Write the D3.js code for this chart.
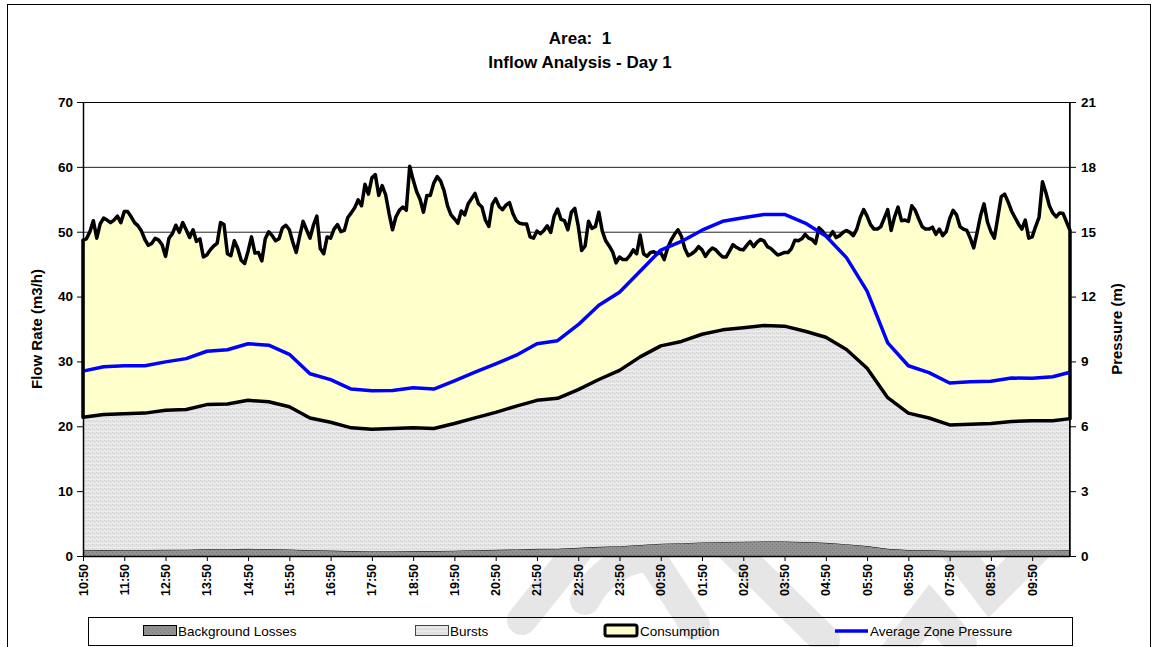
<!DOCTYPE html>
<html><head><meta charset="utf-8">
<script src="https://cdn.jsdelivr.net/npm/d3@7"></script>
<style>
body{margin:0;background:#fff}
svg{display:block}
text{font-family:"Liberation Sans",Arial,Helvetica,sans-serif}
</style>
</head><body>
<svg id="c" width="1158" height="647"></svg>
<script>
// ---------------- DATA ----------------
const titleLines = ["Area:  1", "Inflow Analysis - Day 1"];
const timeLabels = ["10:50","11:50","12:50","13:50","14:50","15:50","16:50","17:50","18:50","19:50","20:50","21:50",
                    "22:50","23:50","00:50","01:50","02:50","03:50","04:50","05:50","06:50","07:50","08:50","09:50"];
const flowTicks = [0,10,20,30,40,50,60,70];
const pressureTicks = [0,3,6,9,12,15,18,21];
const seriesNames = ["Background Losses","Bursts","Consumption","Average Zone Pressure"];

// Total inflow (top of stack), 5-minute readings from 10:50
const inflow = [
48.7,48.9,50.0,51.7,49.0,51.2,52.1,51.8,51.4,51.8,
52.4,51.4,53.1,53.1,52.3,51.4,50.9,50.1,48.8,47.9,
48.2,49.0,48.7,48.0,46.2,49.0,49.7,51.0,49.9,51.4,
50.3,49.1,50.3,48.5,48.9,46.1,46.4,47.2,47.8,48.2,
51.4,51.1,46.6,46.3,48.6,47.4,45.6,45.1,47.0,49.2,
46.7,46.8,45.5,48.9,50.0,49.4,48.6,48.9,50.6,51.0,
50.3,48.4,46.8,49.3,51.6,50.3,49.0,51.0,52.4,47.4,
46.6,49.2,49.0,50.4,51.1,50.0,50.2,52.2,52.9,53.7,
54.9,54.0,57.3,55.8,58.3,58.8,55.6,57.1,55.7,52.8,
50.3,52.3,53.3,53.8,53.3,60.1,58.0,56.2,55.0,53.0,
55.6,55.6,57.5,58.5,57.8,56.3,54.0,52.6,52.0,51.3,
53.2,52.6,54.3,55.1,55.9,54.3,53.8,51.8,50.8,54.2,
55.1,53.9,53.4,54.1,54.5,52.8,51.7,51.3,51.2,51.2,
49.2,49.0,50.1,49.7,50.2,50.9,49.9,52.4,53.5,51.9,
51.7,50.3,53.0,53.6,50.9,47.1,47.8,51.6,50.5,50.8,
53.0,50.1,48.6,47.8,46.9,45.2,46.1,45.7,45.7,46.3,
47.2,46.6,49.5,46.6,46.2,46.8,46.9,46.6,46.8,45.7,
47.5,48.7,49.6,50.3,49.3,47.4,46.3,46.6,47.0,47.7,
47.2,46.2,47.0,47.5,47.2,46.6,46.1,46.1,47.0,48.0,
47.6,47.3,47.2,47.9,48.5,47.7,48.4,48.8,48.6,47.7,
47.4,46.9,46.4,46.6,46.8,46.8,47.4,48.7,48.6,48.9,
49.6,49.0,48.8,48.2,50.6,50.1,49.4,49.2,50.0,49.1,
49.4,49.9,50.2,49.9,49.4,50.4,52.2,53.4,52.4,51.1,
50.4,50.4,50.8,52.1,53.4,50.2,52.3,53.8,51.7,51.8,
51.6,54.0,53.3,52.0,50.8,50.4,50.4,50.7,49.6,50.4,
49.4,50.0,52.0,53.3,52.6,50.8,50.4,50.2,49.0,47.5,
49.9,52.5,54.3,51.5,50.0,49.0,52.2,55.4,55.8,54.6,
53.2,52.2,51.2,50.4,51.8,49.0,49.2,50.8,52.2,57.7,
56.0,54.0,52.9,52.3,52.9,52.8,51.5,50.2];

// Half-hourly readings (10:50, 11:20, ... 10:20, end 10:45)
const bgLosses = [0.89,0.92,0.94,0.93,0.96,0.98,1.04,1.05,1.10,1.08,1.02,0.87,0.83,0.76,0.75,0.75,0.77,0.76,0.82,0.89,
                  0.95,1.01,1.10,1.12,1.26,1.41,1.52,1.70,1.90,1.98,2.09,2.17,2.21,2.24,2.24,2.16,2.03,1.83,1.54,1.11,
                  0.93,0.88,0.81,0.82,0.82,0.84,0.84,0.85,0.88];
const bursts = [20.5,20.9,21.0,21.1,21.5,21.6,22.3,22.4,22.9,22.7,22.0,20.4,19.8,19.0,18.8,18.9,19.0,18.9,19.6,20.4,
                21.2,22.1,22.9,23.2,24.4,25.8,27.1,29.0,30.5,31.1,32.1,32.7,33.0,33.3,33.2,32.5,31.7,30.0,27.4,23.3,
                21.1,20.4,19.4,19.5,19.6,19.9,20.0,20.0,20.3];
const pressure = [8.55,8.75,8.8,8.8,8.98,9.13,9.47,9.54,9.82,9.75,9.33,8.43,8.16,7.72,7.64,7.66,7.78,7.72,8.1,8.5,
                  8.89,9.29,9.82,9.96,10.7,11.6,12.2,13.17,14.15,14.55,15.07,15.48,15.65,15.8,15.8,15.4,14.8,13.8,12.25,9.86,
                  8.8,8.48,8.0,8.06,8.08,8.23,8.22,8.29,8.5];

// ---------------- CHART ----------------
const svg = d3.select("#c");
const P = {l:83, r:1070, t:102, b:556};
const n = inflow.length;
const x = d3.scaleLinear().domain([0, n-1]).range([P.l, P.r]);
const yF = d3.scaleLinear().domain([0,70]).range([P.b, P.t]);
const yP = d3.scaleLinear().domain([0,21]).range([P.b, P.t]);
const halfIdx = d3.range(0, n, 6).concat([n-1]);
const half = halfIdx.map((idx,k)=>({idx, bg:bgLosses[k], top:bgLosses[k]+bursts[k], p:pressure[k]}));

const defs = svg.append("defs");
const pb = defs.append("pattern").attr("id","burstPat").attr("patternUnits","userSpaceOnUse").attr("width",4).attr("height",4);
pb.append("rect").attr("width",4).attr("height",4).attr("fill","#e4e4e4");
pb.append("rect").attr("x",0).attr("y",0).attr("width",1).attr("height",1).attr("fill","#cdcdcd");
pb.append("rect").attr("x",2).attr("y",1).attr("width",1).attr("height",1).attr("fill","#d2d2d2");
pb.append("rect").attr("x",0).attr("y",3).attr("width",4).attr("height",1).attr("fill","#ededed");
const pg = defs.append("pattern").attr("id","bgPat").attr("patternUnits","userSpaceOnUse").attr("width",4).attr("height",4);
pg.append("rect").attr("width",4).attr("height",4).attr("fill","#929292");
pg.append("rect").attr("x",0).attr("y",0).attr("width",1).attr("height",1).attr("fill","#777");
pg.append("rect").attr("x",2).attr("y",2).attr("width",1).attr("height",1).attr("fill","#7c7c7c");

// watermark (faint, behind chart)
const wm = svg.append("g").attr("fill","none").attr("stroke","#e6e6e6").attr("stroke-width",30).attr("stroke-linecap","round");
wm.append("path").attr("d","M582,545 L522,620");
wm.append("path").attr("d","M585,600 Q605,562 650,556 L695,625");
wm.append("path").attr("d","M728,545 L825,640");
wm.append("path").attr("d","M890,660 L930,608 L962,645");
wm.append("path").attr("d","M952,545 L990,595 L1040,545");

// outer frame
svg.append("rect").attr("x",7.5).attr("y",4.5).attr("width",1143).attr("height",700)
  .attr("fill","none").attr("stroke","#000").attr("stroke-width",1);

// titles
svg.append("text").attr("x",580).attr("y",44).attr("text-anchor","middle")
  .attr("font-size",17).attr("font-weight","bold").style("white-space","pre").text(titleLines[0]);
svg.append("text").attr("x",580).attr("y",68).attr("text-anchor","middle")
  .attr("font-size",17).attr("font-weight","bold").text(titleLines[1]);

// plot background
svg.append("rect").attr("x",P.l).attr("y",P.t).attr("width",P.r-P.l).attr("height",P.b-P.t).attr("fill","#fff");

// gridlines
svg.append("g").selectAll("line").data(flowTicks.slice(1)).join("line")
  .attr("x1",P.l).attr("x2",P.r).attr("y1",d=>yF(d)+0.5).attr("y2",d=>yF(d)+0.5)
  .attr("stroke","#222").attr("stroke-width",1);

// background losses
const areaBg = d3.area().x(d=>x(d.idx)).y0(yF(0)).y1(d=>yF(d.bg));
svg.append("path").datum(half).attr("d",areaBg).attr("fill","url(#bgPat)");
svg.append("path").datum(half).attr("d",d3.line().x(d=>x(d.idx)).y(d=>yF(d.bg)))
  .attr("fill","none").attr("stroke","#000").attr("stroke-width",1);

// bursts
const areaBu = d3.area().x(d=>x(d.idx)).y0(d=>yF(d.bg)).y1(d=>yF(d.top));
svg.append("path").datum(half).attr("d",areaBu).attr("fill","url(#burstPat)");

// consumption (between bursts top and total inflow)
const topLine = d3.line().x((d,i)=>x(i)).y(d=>yF(d));
const botLine = d3.line().x(d=>x(d.idx)).y(d=>yF(d.top));
const topD = topLine(inflow);
const botD = botLine(half.slice().reverse());
svg.append("path").attr("d", topD + "L" + botD.slice(1) + "Z")
  .attr("fill","#ffffcc").attr("stroke","#000").attr("stroke-width",3.5).attr("stroke-linejoin","round");

// pressure
svg.append("path").datum(half).attr("d",d3.line().x(d=>x(d.idx)).y(d=>yP(d.p)))
  .attr("fill","none").attr("stroke","#0000ff").attr("stroke-width",3.5).attr("stroke-linejoin","round");

// plot border
svg.append("rect").attr("x",P.l+0.5).attr("y",P.t+0.5).attr("width",P.r-P.l-1).attr("height",P.b-P.t)
  .attr("fill","none").attr("stroke","#000").attr("stroke-width",1);

// left axis
const gl = svg.append("g");
gl.selectAll("line").data(flowTicks).join("line")
  .attr("x1",P.l-6).attr("x2",P.l).attr("y1",d=>yF(d)+0.5).attr("y2",d=>yF(d)+0.5).attr("stroke","#000");
gl.selectAll("text").data(flowTicks).join("text")
  .attr("x",P.l-10).attr("y",d=>yF(d)).attr("dy","0.36em").attr("text-anchor","end")
  .attr("font-size",13.5).attr("font-weight","bold").text(d=>d);
svg.append("line").attr("x1",P.l+0.5).attr("x2",P.l+0.5).attr("y1",P.t).attr("y2",P.b).attr("stroke","#000").attr("stroke-width",1.5);

// right axis
const gr = svg.append("g");
gr.selectAll("line").data(pressureTicks).join("line")
  .attr("x1",P.r).attr("x2",P.r+6).attr("y1",d=>yP(d)+0.5).attr("y2",d=>yP(d)+0.5).attr("stroke","#000");
gr.selectAll("text").data(pressureTicks).join("text")
  .attr("x",P.r+11).attr("y",d=>yP(d)).attr("dy","0.36em").attr("text-anchor","start")
  .attr("font-size",13.5).attr("font-weight","bold").text(d=>d);
svg.append("line").attr("x1",P.r).attr("x2",P.r).attr("y1",P.t).attr("y2",P.b).attr("stroke","#000").attr("stroke-width",1.5);

// bottom axis
svg.append("line").attr("x1",P.l).attr("x2",P.r).attr("y1",P.b+0.5).attr("y2",P.b+0.5).attr("stroke","#000").attr("stroke-width",1.5);
const gx = svg.append("g");
gx.selectAll("line").data(timeLabels).join("line")
  .attr("x1",(d,i)=>x(i*12)+0.5).attr("x2",(d,i)=>x(i*12)+0.5).attr("y1",P.b).attr("y2",P.b+5).attr("stroke","#000");
gx.selectAll("text").data(timeLabels).join("text")
  .attr("transform",(d,i)=>`translate(${x(i*12)},${P.b+8}) rotate(-90)`)
  .attr("dy","0.36em").attr("text-anchor","end")
  .attr("font-size",12.5).attr("font-weight","bold").text(d=>d);

// axis titles
svg.append("text").attr("transform",`translate(42,${(P.t+P.b)/2}) rotate(-90)`).attr("text-anchor","middle")
  .attr("font-size",15).attr("font-weight","bold").text("Flow Rate (m3/h)");
svg.append("text").attr("transform",`translate(1122,${(P.t+P.b)/2}) rotate(-90)`).attr("text-anchor","middle")
  .attr("font-size",15).attr("font-weight","bold").text("Pressure (m)");

// legend
const lg = svg.append("g");
lg.append("rect").attr("x",88.5).attr("y",617.5).attr("width",984).attr("height",28).attr("fill","none").attr("stroke","#000");
const ly = 631;
const items = [
  {x:143, tx:178, kind:"bg"},
  {x:415, tx:450, kind:"bu"},
  {x:605, tx:640, kind:"co"},
  {x:835, tx:870, kind:"pr"}
];
items.forEach((it,k)=>{
  if(it.kind==="bg") lg.append("rect").attr("x",it.x+0.5).attr("y",ly-5.5).attr("width",33).attr("height",10).attr("fill","url(#bgPat)").attr("stroke","#000");
  if(it.kind==="bu") lg.append("rect").attr("x",it.x+0.5).attr("y",ly-5.5).attr("width",33).attr("height",10).attr("fill","url(#burstPat)").attr("stroke","#444");
  if(it.kind==="co") lg.append("rect").attr("x",it.x).attr("y",ly-6).attr("width",32).attr("height",11).attr("rx",2).attr("fill","#ffffcc").attr("stroke","#000").attr("stroke-width",3);
  if(it.kind==="pr") lg.append("line").attr("x1",it.x).attr("x2",it.x+33).attr("y1",ly).attr("y2",ly).attr("stroke","#0000ff").attr("stroke-width",3.5);
  lg.append("text").attr("x",it.tx).attr("y",ly).attr("dy","0.36em").attr("font-size",13.5).text(seriesNames[k]);
});
</script>
</body></html>
